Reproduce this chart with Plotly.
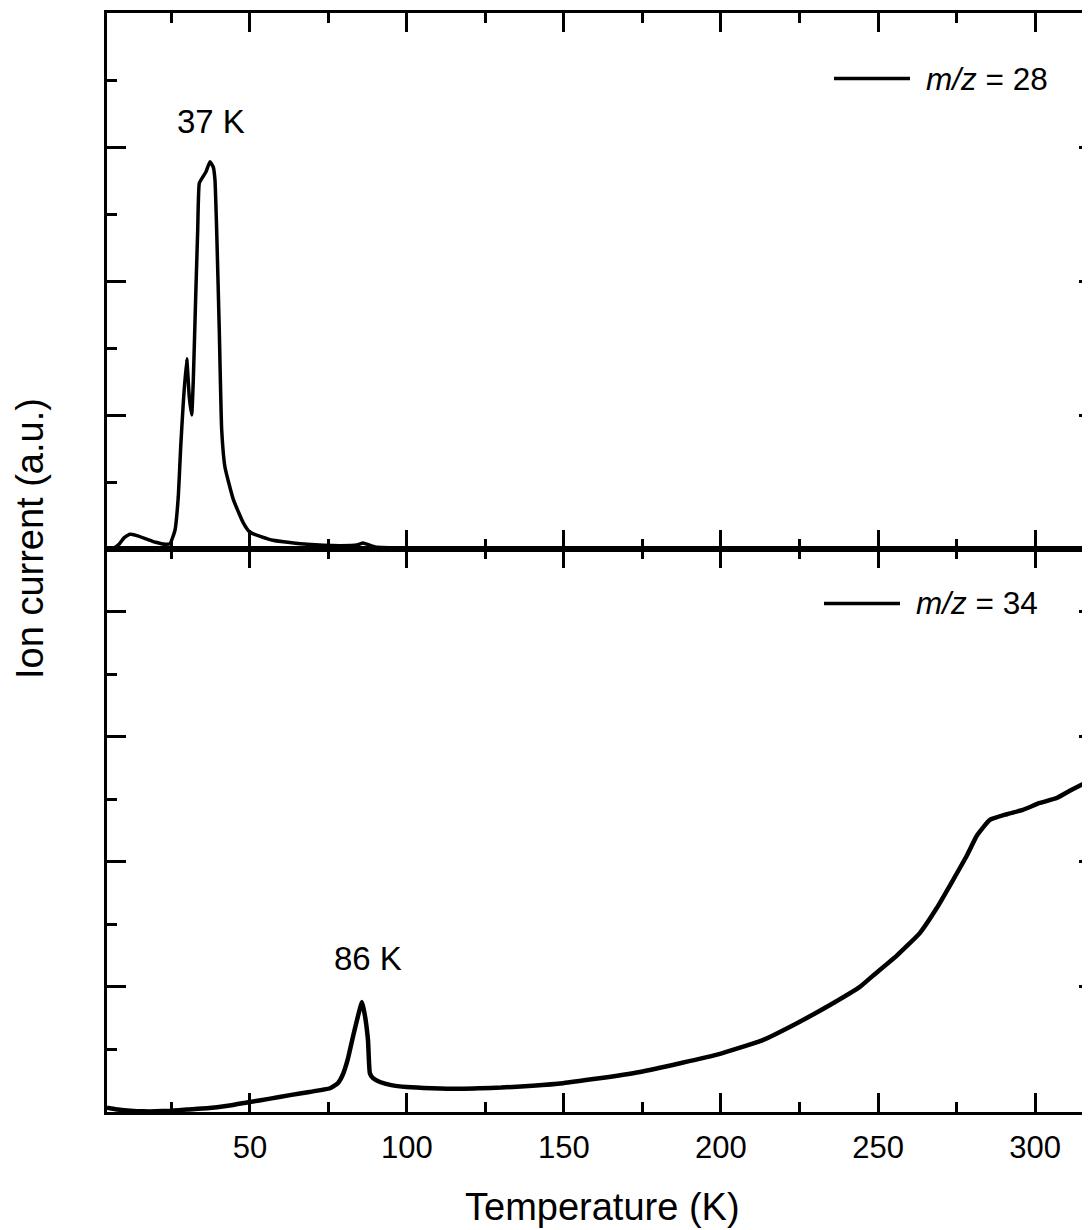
import plotly.graph_objects as go
from plotly.subplots import make_subplots

# ---- data: m/z = 28 (upper panel) ----
T28 = [4.5, 6.5, 8.5, 10.0, 11.8, 14.0, 17.0, 20.0, 23.0, 24.56, 26.15, 27.2, 27.96,
       28.79, 29.87, 30.7, 31.47, 31.98, 32.74, 33.38, 33.89, 34.97, 36.02, 37.29,
       38.34, 38.88, 39.42, 40.25, 41.02, 42.07, 44.71, 47.9, 50.03, 57.35, 68.17,
       78.7, 84.1, 86.0, 88.0, 90.0, 100.0, 150.0, 200.0, 250.0, 300.0, 317.5]
I28 = [0.0, 0.01, 0.08, 0.17, 0.22, 0.20, 0.15, 0.10, 0.07, 0.08, 0.28, 0.78, 1.52,
       2.18, 2.84, 2.27, 2.0, 2.52, 3.76, 4.76, 5.46, 5.55, 5.63, 5.78,
       5.70, 5.51, 4.76, 3.27, 1.78, 1.22, 0.74, 0.39, 0.25, 0.13, 0.07,
       0.05, 0.06, 0.09, 0.06, 0.03, 0.015, 0.015, 0.015, 0.015, 0.015, 0.015]

# ---- data: m/z = 34 (lower panel) ----
T34 = [4.5, 8, 12, 16, 20, 24.6, 30, 36.3, 43, 50, 56, 62.8, 69, 75.5, 78, 79.6, 81.2,
       82.8, 84.5, 85.7, 86.6, 87.6, 88.2, 89.2, 91.4, 95, 100, 108, 116, 123.3, 130,
       140, 149.7, 160, 174.2, 187, 199.7, 213.3, 224.2, 234.7, 244.2, 248.4, 256,
       263.3, 268.7, 273.8, 278.3, 281.5, 285.6, 291, 296.1, 301.5, 306.9, 312, 317.5]
I34 = [0.07, 0.04, 0.02, 0.01, 0.01, 0.02, 0.04, 0.06, 0.10, 0.16, 0.21, 0.27, 0.32,
       0.38, 0.46, 0.60, 0.85, 1.20, 1.55, 1.76, 1.55, 1.15, 0.62, 0.54, 0.48, 0.43,
       0.40, 0.38, 0.37, 0.38, 0.39, 0.42, 0.46, 0.53, 0.64, 0.78, 0.93, 1.15, 1.42,
       1.71, 2.00, 2.18, 2.50, 2.86, 3.26, 3.70, 4.10, 4.42, 4.67, 4.76, 4.83, 4.94,
       5.02, 5.16, 5.30]

X_TICKS = [50, 100, 150, 200, 250, 300]
X_RANGE = [4.5, 317.5]
Y1_RANGE = [0, 8]
Y2_RANGE = [0, 9]
LABEL_28 = "<i>m/z</i> = 28"
LABEL_34 = "<i>m/z</i> = 34"
PEAK_28 = "37 K"
PEAK_34 = "86 K"

FONT = "Liberation Sans, Arial, sans-serif"
# the page body has an 8 px margin; size the figure so the plot lands where intended
OFF = 8
W, H = 1090 - OFF, 1230 - OFF
ML, MR, MT = 107 - OFF, 0, 13 - OFF
PH = 1112 - 13
MB = H - MT - PH
PW = W - ML - MR


def px2paper_x(px):
    return (px - OFF - ML) / PW


def px2paper_y(py):
    return (OFF + MT + PH - py) / PH


fig = make_subplots(rows=2, cols=1, shared_xaxes=True, vertical_spacing=0)

fig.add_trace(go.Scatter(x=T28, y=I28, mode="lines", showlegend=False,
                         line=dict(color="black", width=3.5, shape="spline", smoothing=0.4)),
              row=1, col=1)
fig.add_trace(go.Scatter(x=T34, y=I34, mode="lines", showlegend=False,
                         line=dict(color="black", width=4.5, shape="spline", smoothing=0.4)),
              row=2, col=1)
# invisible copies so that the right-hand (clipped-looking) tick axes are drawn
fig.add_trace(go.Scatter(x=T28, y=I28, mode="lines", showlegend=False, hoverinfo="skip",
                         opacity=0, xaxis="x", yaxis="y3", line=dict(width=0)))
fig.add_trace(go.Scatter(x=T34, y=I34, mode="lines", showlegend=False, hoverinfo="skip",
                         opacity=0, xaxis="x2", yaxis="y4", line=dict(width=0)))

split = px2paper_y(549)

xcommon = dict(range=X_RANGE, showline=True, linewidth=3, linecolor="black",
               ticks="inside", ticklen=19, tickwidth=3, tickcolor="black",
               tick0=0, dtick=50, showgrid=False, zeroline=False, mirror="ticks",
               minor=dict(ticks="inside", ticklen=10, tickwidth=3, tickcolor="black",
                          dtick=25, showgrid=False))
fig.update_xaxes(**xcommon)
fig.update_layout(
    xaxis=dict(showticklabels=False),
    xaxis2=dict(showticklabels=True, tickvals=X_TICKS, ticktext=[str(v) for v in X_TICKS],
                ticklabelstandoff=6,
                tickfont=dict(family=FONT, size=31, color="black")),
)

ycommon = dict(showline=True, linewidth=3, linecolor="black", ticks="inside",
               ticklen=19, tickwidth=3, tickcolor="black", tick0=0, dtick=2,
               showticklabels=False, showgrid=False, zeroline=False,
               minor=dict(ticks="inside", ticklen=10, tickwidth=3, tickcolor="black",
                          dtick=1, showgrid=False))
rcommon = dict(side="right", showline=False, ticks="inside", ticklen=11, tickwidth=3,
               tickcolor="black", tick0=0, dtick=2, showticklabels=False, showgrid=False,
               zeroline=False,
               minor=dict(ticks="inside", ticklen=2, tickwidth=3, tickcolor="black",
                          dtick=1, showgrid=False))
fig.update_layout(
    yaxis=dict(domain=[split, 1], range=Y1_RANGE, **ycommon),
    yaxis2=dict(domain=[0, split], range=Y2_RANGE, **ycommon),
    yaxis3=dict(overlaying="y", anchor="x", range=Y1_RANGE, **rcommon),
    yaxis4=dict(overlaying="y2", anchor="x2", range=Y2_RANGE, **rcommon),
)

annots = [
    dict(text="Temperature (K)", xref="paper", yref="paper",
         x=px2paper_x(602), y=px2paper_y(1207), xanchor="center", yanchor="middle",
         showarrow=False, font=dict(family=FONT, size=38, color="black")),
    dict(text="Ion current (a.u.)", xref="paper", yref="paper", textangle=-90,
         x=px2paper_x(30), y=px2paper_y(539), xanchor="center", yanchor="middle",
         showarrow=False, font=dict(family=FONT, size=38, color="black")),
    dict(text=PEAK_28, xref="x", yref="y", x=37.6, y=6.38, showarrow=False,
         xanchor="center", yanchor="middle", font=dict(family=FONT, size=33, color="black")),
    dict(text=PEAK_34, xref="x2", yref="y2", x=87.6, y=2.46, showarrow=False,
         xanchor="center", yanchor="middle", font=dict(family=FONT, size=33, color="black")),
    dict(text=LABEL_28, xref="paper", yref="paper", x=px2paper_x(924), y=px2paper_y(78.5),
         xanchor="left", yanchor="middle", showarrow=False,
         font=dict(family=FONT, size=31.5, color="black")),
    dict(text=LABEL_34, xref="paper", yref="paper", x=px2paper_x(914), y=px2paper_y(603.5),
         xanchor="left", yanchor="middle", showarrow=False,
         font=dict(family=FONT, size=31.5, color="black")),
]

shapes = [
    dict(type="line", xref="paper", yref="paper", x0=px2paper_x(834), x1=px2paper_x(910),
         y0=px2paper_y(78.5), y1=px2paper_y(78.5), line=dict(color="black", width=3.5)),
    dict(type="line", xref="paper", yref="paper", x0=px2paper_x(824), x1=px2paper_x(900),
         y0=px2paper_y(603.5), y1=px2paper_y(603.5), line=dict(color="black", width=3.5)),
]

fig.update_layout(width=W, height=H, margin=dict(l=ML, r=MR, t=MT, b=MB, pad=0),
                  paper_bgcolor="white", plot_bgcolor="white",
                  annotations=annots, shapes=shapes, showlegend=False,
                  font=dict(family=FONT, color="black"))

fig.write_html("out.html")
